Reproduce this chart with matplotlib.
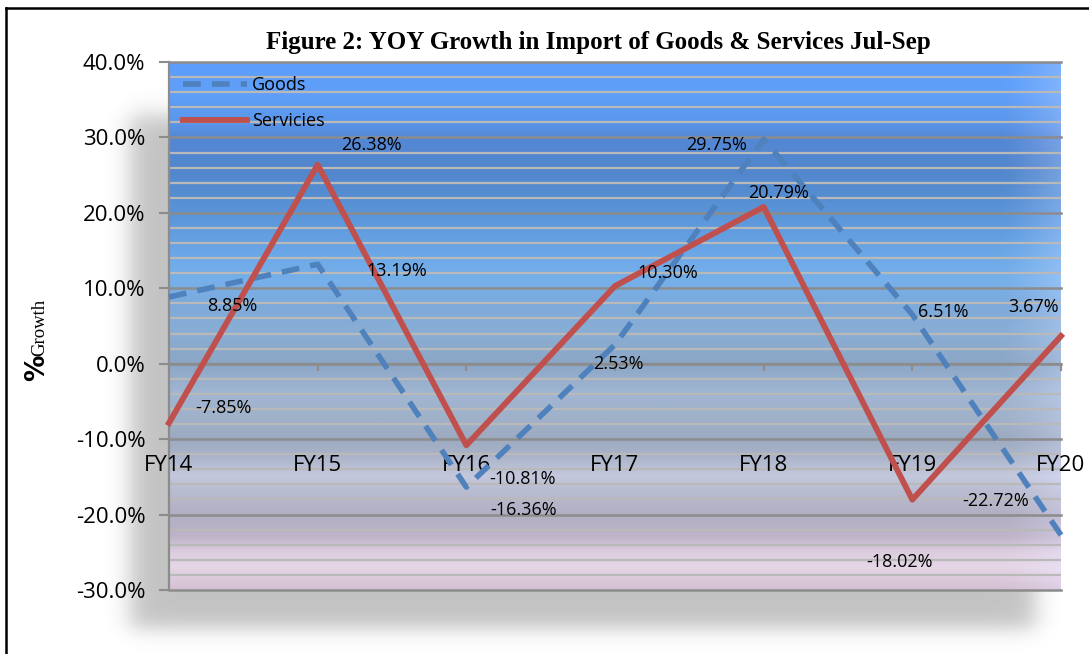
import numpy as np
import matplotlib.pyplot as plt
from matplotlib.lines import Line2D

# --- data ---
years = ["FY14", "FY15", "FY16", "FY17", "FY18", "FY19", "FY20"]
goods = [8.85, 13.19, -16.36, 2.53, 29.75, 6.51, -22.72]
services = [-7.85, 26.38, -10.81, 10.30, 20.79, -18.02, 3.67]

# label offsets (pixels) from each point
goods_off = [(63, -9), (79, -7), (57, -23), (3, -19), (-47, -6), (31, 3), (-65, 34)]
serv_off = [(54, 15), (54, 20), (56, -34), (53, 13), (15, 14), (-13, -62), (-27, 29)]

W, H = 1089, 654
fig = plt.figure(figsize=(W / 100, H / 100), dpi=100)
fig.patch.set_facecolor("white")

# --- soft drop shadow behind the plot area ---
sh_ax = fig.add_axes([0, 0, 1, 1], zorder=0)
sh_ax.set_axis_off()
xx, yy = np.meshgrid(np.arange(W), np.arange(H))
def soft(a, b, s):
    return 0.5 * (1 + np.tanh((a - b) / s))
alpha = (soft(xx, 130, 14) * soft(1035, xx, 14) *
         soft(yy, 115, 14) * soft(628, yy, 12)) * 0.24
shadow = np.zeros((H, W, 4))
shadow[..., 3] = alpha
sh_ax.imshow(shadow, extent=[0, W, H, 0], aspect="auto")
sh_ax.set_xlim(0, W)
sh_ax.set_ylim(H, 0)

# frame lines of the original picture
fig.add_artist(Line2D([6 / W, 6 / W], [0, 1 - 8 / H], color="black", lw=1.8))
fig.add_artist(Line2D([6 / W, 1], [1 - 8 / H, 1 - 8 / H], color="black", lw=1.8))

ax = fig.add_axes([169 / W, 1 - 590 / H, (1061 - 169) / W, (590 - 62) / H], zorder=2)

# --- gradient background ---
stops_v = [40, 36, 32, 30, 26, 22, 18, 14, 11, 8, 4, 0, -4, -8, -10, -12, -15, -17, -20, -23, -25, -27, -30]
stops_c = [(92, 157, 250), (96, 160, 250), (90, 150, 235), (84, 136, 214), (82, 134, 204),
           (86, 142, 210), (95, 155, 222), (110, 170, 232), (118, 176, 234), (124, 170, 220),
           (138, 174, 212), (140, 166, 198), (160, 182, 210), (160, 176, 200), (156, 170, 192),
           (168, 178, 200), (196, 200, 220), (185, 188, 208), (178, 175, 195), (190, 180, 200),
           (220, 205, 222), (228, 214, 230), (212, 192, 210)]
yv = np.linspace(40, -30, 400)
sv = np.array(stops_v[::-1], float)
sc = np.array(stops_c[::-1], float)
col = np.stack([np.interp(yv, sv, sc[:, k]) for k in range(3)], axis=1) / 255
nx = 300
xf = np.linspace(0, 1, nx)
t = np.clip((xf - 0.935) / 0.065, 0, 1) ** 1.3 * 0.45
light = col + 0.45 * (1 - col)
light[:, 2] = np.minimum(1, light[:, 2] + 0.06)
bg = col[:, None, :] * (1 - t[None, :, None]) + light[:, None, :] * t[None, :, None]
ax.imshow(bg, extent=[0, 6, -30, 40], aspect="auto", zorder=0)

x = np.arange(len(years))
ax.set_xlim(0, 6)
ax.set_ylim(-30, 40)

# gridlines
major = np.arange(-30, 41, 10)
for v in np.arange(-30, 41, 2):
    if v % 10:
        ax.axhline(v, color="#b9b9b9", lw=1.6, zorder=1)
for v in major:
    ax.axhline(v, color="#8c8c8c", lw=1.8, zorder=1, clip_on=False)
ax.set_axisbelow(False)
ax.set_yticks(major)
ax.tick_params(axis="y", which="major", length=7, width=1.5, color="#8c8c8c",
               labelsize=16, pad=10)
ax.set_yticklabels([f"{v:.1f}%" for v in major], fontfamily="Open Sans")

# category axis sits on the zero line
ax.spines["bottom"].set_position(("data", 0))
ax.spines["bottom"].set_color("#8c8c8c")
ax.spines["bottom"].set_linewidth(1.6)
ax.spines["left"].set_color("#8c8c8c")
ax.spines["left"].set_linewidth(1.6)
ax.spines["top"].set_visible(False)
ax.spines["right"].set_visible(False)
ax.set_xticks(x)
ax.set_xticklabels(years, fontfamily="Open Sans", fontsize=16)
ax.tick_params(axis="x", length=5, width=1.5, color="#8c8c8c", pad=61)

# --- lines ---
ax.plot(x, goods, color="#4f81bd", lw=4, linestyle=(0, (3.2, 2)),
        label="Goods", zorder=3, clip_on=False)
ax.plot(x, services, color="#c0504d", lw=4.2, label="Servicies",
        zorder=3, clip_on=False)

for xi, v, off in zip(x, goods, goods_off):
    ax.annotate(f"{v:.2f}%", (xi, v), xytext=off, textcoords="offset pixels",
                ha="center", va="center", fontsize=13, fontfamily="Open Sans", zorder=4)
for xi, v, off in zip(x, services, serv_off):
    ax.annotate(f"{v:.2f}%", (xi, v), xytext=off, textcoords="offset pixels",
                ha="center", va="center", fontsize=13, fontfamily="Open Sans", zorder=4)

leg = ax.legend(loc="upper left", frameon=False, handlelength=3.5,
                handletextpad=0.3, labelspacing=1.0, borderaxespad=0.4,
                prop={"family": "Open Sans", "size": 13})

fig.text(598 / W, 1 - 43 / H, "Figure 2: YOY Growth in Import of Goods & Services Jul-Sep",
         ha="center", va="center", fontsize=18, fontweight="bold",
         fontfamily="Liberation Serif")
fig.text(37 / W, 1 - 368 / H, "%", rotation=90, ha="center", va="center",
         fontsize=19, fontweight="bold", fontfamily="DejaVu Sans")
fig.text(40 / W, 1 - 327 / H, "Growth", rotation=90, ha="center", va="center",
         fontsize=13.5, fontfamily="Liberation Serif")

plt.savefig("out.png", dpi=100)
